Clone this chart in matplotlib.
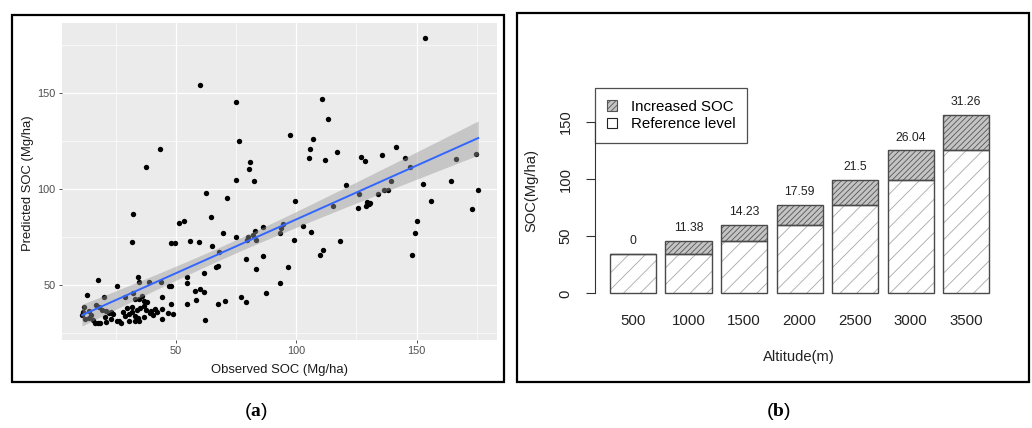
import numpy as np
import matplotlib
matplotlib.use("Agg")
import matplotlib.pyplot as plt
from matplotlib.patches import Rectangle, Patch

plt.rcParams['font.family'] = ['Liberation Sans', 'DejaVu Sans']
plt.rcParams['mathtext.fontset'] = 'custom'
plt.rcParams['mathtext.rm'] = 'Liberation Serif'
plt.rcParams['mathtext.bf'] = 'Liberation Serif:bold'
plt.rcParams['hatch.linewidth'] = 0.6

# ---- panel (a) data: observed vs predicted SOC (Mg/ha)
observed = [153.3, 60.2, 75.2, 110.5, 113.3, 43.5, 37.5, 76.2, 97.5, 106.8,
            105.7, 105.4, 112.0, 116.9, 126.9, 128.5, 135.6, 141.3, 145.3, 147.4,
            166.2, 174.7, 80.7, 80.3, 75.2, 82.3, 62.5, 71.2, 99.3, 120.6,
            125.9, 152.6, 164.3, 139.2, 136.4, 138.1, 133.9, 156.0, 175.5, 173.1,
            125.8, 129.4, 130.1, 130.7, 128.9, 115.2, 150.0, 149.3, 148.2, 118.3,
            111.2, 109.7, 106.1, 103.0, 99.0, 94.4, 93.8, 93.4, 96.6, 93.1,
            87.4, 86.0, 86.3, 83.0, 83.4, 82.0, 80.0, 79.5, 79.3, 83.4,
            79.2, 77.1, 74.8, 69.7, 68.0, 67.7, 66.5, 65.1, 64.5, 61.8,
            61.8, 60.1, 59.5, 58.0, 58.2, 62.0, 56.1, 53.5, 51.4, 54.7,
            54.7, 54.6, 67.6, 70.6, 49.7, 48.2, 47.4, 48.1, 48.1, 49.0,
            46.9, 44.3, 44.3, 43.8, 32.1, 32.0,
            17.9, 25.6, 34.4, 34.9, 39.0, 13.3, 20.1, 12.0, 16.9, 11.1,
            12.2, 18.0, 19.3, 21.2, 22.2, 23.3, 24.0, 15.0, 15.7, 16.6,
            17.6, 18.7, 21.2, 25.6, 26.6, 27.4, 29.1, 32.4, 33.2, 34.9,
            36.0, 37.0, 38.2, 29.9, 31.9, 34.0, 35.0, 36.8, 37.7, 39.7,
            41.3, 42.2, 39.2, 40.6, 28.0, 28.8, 30.5, 31.9, 33.0, 34.4,
            36.7, 30.8, 33.2, 34.9, 44.3, 14.2, 20.5, 23.0, 11.4, 13.8]
predicted = [179.0, 154.6, 145.4, 146.8, 136.7, 120.9, 111.8, 125.2, 128.5, 126.3,
             120.9, 116.2, 115.1, 119.5, 117.0, 114.6, 117.6, 121.9, 116.2, 111.7,
             115.7, 118.6, 114.3, 110.3, 105.0, 104.2, 97.9, 95.5, 93.6, 102.1,
             97.7, 102.8, 104.2, 104.5, 99.8, 99.8, 97.4, 93.6, 99.8, 89.7,
             90.3, 93.2, 92.2, 92.9, 91.1, 91.3, 83.5, 77.2, 65.7, 73.0,
             68.2, 65.4, 77.7, 81.0, 73.6, 81.7, 79.5, 76.9, 59.5, 51.0,
             45.6, 64.9, 80.2, 78.4, 73.6, 76.0, 75.1, 73.4, 63.8, 58.4,
             40.9, 43.5, 74.8, 76.9, 67.3, 59.7, 59.3, 70.1, 85.4, 56.2,
             46.6, 47.7, 72.2, 46.8, 42.4, 31.8, 73.0, 83.5, 82.6, 54.3,
             50.8, 40.0, 40.0, 41.7, 71.7, 71.7, 49.6, 49.4, 40.3, 35.1,
             35.5, 43.8, 32.2, 51.5, 87.0, 72.5,
             52.4, 49.6, 54.0, 51.7, 51.4, 44.9, 43.9, 38.3, 39.4, 34.2,
             32.4, 38.7, 37.1, 36.6, 35.5, 35.9, 34.9, 34.2, 31.7, 30.3,
             30.3, 30.3, 30.5, 31.4, 31.0, 30.3, 43.5, 45.6, 42.5, 42.8,
             44.3, 41.8, 41.1, 38.0, 38.3, 36.9, 38.2, 39.0, 36.9, 36.6,
             37.3, 35.9, 35.2, 34.2, 35.9, 33.8, 34.9, 35.9, 33.8, 32.8,
             33.5, 31.4, 31.0, 31.4, 37.3, 36.5, 33.5, 32.5, 36.0, 33.0]

# ---- panel (b) data
altitudes = ['500', '1000', '1500', '2000', '2500', '3000', '3500']
reference_level = [34.4, 34.4, 45.8, 60.0, 77.6, 99.1, 125.2]
increased_soc = [0, 11.38, 14.23, 17.59, 21.5, 26.04, 31.26]

W, H = 1032, 428
fig = plt.figure(figsize=(W / 100, H / 100), dpi=100)
fig.patch.set_facecolor('white')

# ================= panel (a): ggplot-like scatter with lm fit =================
ax1 = fig.add_axes([62 / W, 1 - 340 / H, 435 / W, 317 / H])
ax1.set_facecolor('#EBEBEB')
for s in ax1.spines.values():
    s.set_visible(False)

x = np.array(observed)
y = np.array(predicted)
ax1.scatter(x, y, s=15, color='black', linewidths=0, zorder=3)

# linear fit and 95% confidence band (what geom_smooth(method='lm') draws)
n = len(x)
b1, b0 = np.polyfit(x, y, 1)
resid = y - (b0 + b1 * x)
s_err = np.sqrt(np.sum(resid ** 2) / (n - 2))
sxx = np.sum((x - x.mean()) ** 2)
xs = np.linspace(x.min(), x.max(), 100)
fit = b0 + b1 * xs
se = s_err * np.sqrt(1 / n + (xs - x.mean()) ** 2 / sxx)
t = 1.974
ax1.fill_between(xs, fit - t * se, fit + t * se, color='#999999', alpha=0.45,
                 linewidth=0, zorder=4)
ax1.plot(xs, fit, color='#3366FF', lw=1.4, zorder=5)

ax1.set_xlim(2.8, 183.3)
ax1.set_ylim(21.3, 186.7)
ax1.set_xticks([50, 100, 150])
ax1.set_yticks([50, 100, 150])
ax1.set_xticks([25, 75, 125, 175], minor=True)
ax1.set_yticks([25, 75, 125, 175], minor=True)
ax1.grid(which='major', color='white', lw=0.9, zorder=0)
ax1.grid(which='minor', color='white', lw=0.45, zorder=0)
ax1.set_axisbelow(True)
ax1.tick_params(which='major', length=2.5, width=0.6, color='#333333',
                labelcolor='#4D4D4D', labelsize=7.8, pad=2)
ax1.tick_params(which='minor', length=0)

ax1.set_xlabel('Observed SOC (Mg/ha)', fontsize=9.4, color='#1A1A1A')
ax1.xaxis.set_label_coords(0.501, -(369.5 - 340) / 317)
ax1.xaxis.label.set_va('center')
ax1.set_ylabel('Predicted SOC (Mg/ha)', fontsize=9.4, color='#1A1A1A')
ax1.yaxis.set_label_coords(-(62 - 28.5) / 435, (340 - 182.7) / 317)
ax1.yaxis.label.set_va('center')

# ================= panel (b): stacked hatched bars =================
ax2 = fig.add_axes([594.8 / W, 1 - 301.2 / H, 409.7 / W, 213.5 / H])
pos = 0.7 + 1.2 * np.arange(len(altitudes))
totals = np.array(reference_level) + np.array(increased_soc)

ax2.bar(pos, reference_level, width=1, color='white', edgecolor='#a8a8a8',
        hatch='//', linewidth=0, zorder=2)
ax2.bar(pos, reference_level, width=1, fill=False, edgecolor='#4a4a4a',
        linewidth=1.0, zorder=3)
ax2.bar(pos, increased_soc, bottom=reference_level, width=1, color='#c4c4c4',
        edgecolor='#555555', hatch='//////', linewidth=0, zorder=2)
ax2.bar(pos, increased_soc, bottom=reference_level, width=1, fill=False,
        edgecolor='#4a4a4a', linewidth=1.0, zorder=3)

for xp, tot, inc in zip(pos, totals, increased_soc):
    ax2.annotate(f'{inc:g}', (xp, tot), xytext=(0, 9.2), textcoords='offset points',
                 ha='center', va='center', fontsize=8.8, color='#222222')

ax2.set_xlim(-0.128, 8.728)
ax2.set_ylim(-6.9, 180)
for k in ['top', 'right', 'bottom']:
    ax2.spines[k].set_visible(False)
ax2.spines['left'].set_bounds(0, 150)
ax2.spines['left'].set_color('#333333')
ax2.set_yticks([0, 50, 100, 150])
ax2.set_yticklabels(['0', '50', '100', '150'], rotation=90, va='center')
ax2.tick_params(axis='y', length=6.5, width=0.8, color='#333333',
                labelsize=10.6, labelcolor='#222222', pad=9.5)
ax2.set_xticks(pos)
ax2.set_xticklabels(altitudes)
ax2.tick_params(axis='x', length=0, labelsize=10.8, labelcolor='#222222', pad=9.5)

ax2.set_xlabel('Altitude(m)', fontsize=10.6, color='#222222')
ax2.xaxis.set_label_coords(0.499, -(356.7 - 301.2) / 213.5)
ax2.xaxis.label.set_va('center')
ax2.set_ylabel('SOC(Mg/ha)', fontsize=10.6, color='#222222')
ax2.yaxis.set_label_coords(-(594.8 - 531.7) / 409.7, (301.2 - 190) / 213.5)
ax2.yaxis.label.set_va('center')

handles = [Patch(facecolor='#c4c4c4', edgecolor='#555555', hatch='//////', lw=0.8),
           Patch(facecolor='white', edgecolor='#222222', lw=0.8)]
leg = ax2.legend(handles, ['Increased SOC', 'Reference level'], loc='upper left',
                 bbox_to_anchor=(0, 1), borderaxespad=0, fancybox=False,
                 edgecolor='#222222', fontsize=10.8, handlelength=0.7,
                 handleheight=0.7, labelspacing=0.25, borderpad=0.8,
                 handletextpad=0.9)
leg.get_frame().set_linewidth(0.9)

# ================= outer frames and captions =================
fig.patches.append(Rectangle((12 / W, 1 - 382 / H), 492 / W, 367 / H, fill=False,
                             edgecolor='black', lw=1.6, transform=fig.transFigure))
fig.patches.append(Rectangle((517 / W, 1 - 382 / H), 512 / W, 369 / H, fill=False,
                             edgecolor='black', lw=1.6, transform=fig.transFigure))
fig.text(256 / W, 1 - 411 / H, r'($\mathbf{a}$)', ha='center', va='center', fontsize=14)
fig.text(778 / W, 1 - 411 / H, r'($\mathbf{b}$)', ha='center', va='center', fontsize=14)

fig.savefig('out.png', dpi=100)
